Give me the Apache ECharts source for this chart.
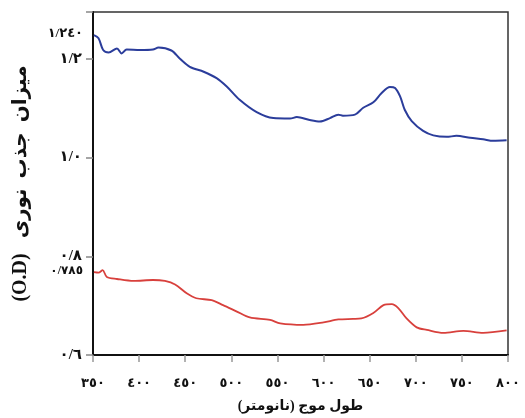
<!DOCTYPE html>
<html><head><meta charset="utf-8">
<script src="https://cdn.jsdelivr.net/npm/echarts@6/dist/echarts.min.js"></script>
<style>html,body{margin:0;padding:0;background:#fff}#c{width:525px;height:418px}</style>
</head><body><div id="c"></div>
<script>
const xTickValues = [350,400,450,500,550,600,650,700,750,800];
const xTickLabels = ['٣٥٠','٤٠٠','٤٥٠','٥٠٠','٥٥٠','٦٠٠','٦٥٠','٧٠٠','٧٥٠','٨٠٠'];
const yTickValues = [0.6,0.8,1.0,1.2];
const yTickLabels = ['٠/٦','٠/٨','١/٠','١/٢'];
const yExtraValues = [0.785,1.24];
const yExtraLabels = ['٠/٧٨٥','١/٢٤٠'];
const xTitle = 'طول موج (نانومتر)';
const yTitle = '(O.D)   میزان  جذب  نوری';

const blueX = [351,356,361,367,376,381,386.5,401,415,421,435,444,455,470,484,495,509,527.5,545.5,563.6,571,585,596,607,616,621,634,643,654,663,672,677.5,683,688,695.6,708,719,733.5,744,759,773,784,798.5];
const blueY = [1.248,1.242,1.218,1.213,1.221,1.211,1.219,1.218,1.219,1.223,1.217,1.201,1.184,1.174,1.161,1.144,1.117,1.092,1.080,1.079,1.082,1.076,1.073,1.080,1.087,1.085,1.087,1.101,1.112,1.131,1.143,1.141,1.124,1.097,1.074,1.054,1.045,1.042,1.044,1.040,1.037,1.034,1.035];
const redX = [351,356,360.5,365,376,394,415,428,439,451.6,462,478.7,491,506,520,542,553,578,600,616,632,641,654,665,674,681,690,701,712,730,751.6,773,798.5];
const redY = [0.768,0.767,0.772,0.758,0.754,0.750,0.752,0.750,0.743,0.725,0.715,0.711,0.701,0.688,0.676,0.671,0.664,0.661,0.666,0.672,0.673,0.674,0.685,0.701,0.703,0.695,0.674,0.656,0.651,0.645,0.649,0.645,0.650];

const arFont = '"Liberation Serif","DejaVu Sans",serif';
const chart = echarts.init(document.getElementById('c'));
const xLab = {}; xTickValues.forEach((v,i)=>xLab[v]=xTickLabels[i]);
const yLab = {}; yTickValues.forEach((v,i)=>yLab[v.toFixed(3)]=yTickLabels[i]);
const yExt = {}; yExtraValues.forEach((v,i)=>yExt[v.toFixed(3)]=yExtraLabels[i]);
chart.setOption({
  animation:false,
  grid:{left:93,right:17,top:12,bottom:61,show:true,borderColor:'#333',borderWidth:1.5,backgroundColor:'transparent'},
  xAxis:{type:'value',min:350,max:800,interval:50,
    axisLine:{show:true,lineStyle:{color:'#111',width:2}},
    axisTick:{show:true,length:7,lineStyle:{color:'#999',width:1.5}},
    axisLabel:{customValues:xTickValues,margin:22,fontSize:13,fontWeight:'bold',color:'#111',fontFamily:arFont,formatter:v=>xLab[v]},
    splitLine:{show:false},
    name:xTitle,nameLocation:'middle',nameGap:44,nameTextStyle:{fontSize:14,fontWeight:'bold',color:'#111',fontFamily:arFont}
  },
  yAxis:[{type:'value',min:0.6,max:1.295,interval:0.2,
    axisLine:{show:true,lineStyle:{color:'#111',width:2}},
    axisTick:{show:true,length:7,lineStyle:{color:'#888',width:1.5}},
    axisLabel:{customValues:yTickValues,margin:11,fontSize:15,fontWeight:'bold',color:'#111',fontFamily:arFont,formatter:v=>yLab[Number(v).toFixed(3)]},
    splitLine:{show:false},
    name:yTitle,nameLocation:'middle',nameGap:62,nameRotate:90,
    nameTextStyle:{fontSize:20,fontWeight:'bold',color:'#111',fontFamily:arFont}
  },{type:'value',min:0.6,max:1.295,position:'left',
    axisLine:{show:false},axisTick:{show:false},splitLine:{show:false},
    axisLabel:{customValues:yExtraValues,margin:10,color:'#111',fontFamily:arFont,
      formatter:v=>{const k=Number(v).toFixed(3);return (k==='0.785'?'{lo|':'{hi|')+yExt[k]+'}';},
      rich:{lo:{fontSize:12,fontWeight:'bold',color:'#111',fontFamily:arFont,padding:[14,0,0,0]},
            hi:{fontSize:13,fontWeight:'bold',color:'#111',fontFamily:arFont,padding:[0,0,12,0]}}}
  }],
  series:[
    {type:'line',data:blueX.map((x,i)=>[x,blueY[i]]),showSymbol:false,smooth:0.3,lineStyle:{color:'#2b3d9b',width:2},itemStyle:{color:'#2b3d9b'}},
    {type:'line',data:redX.map((x,i)=>[x,redY[i]]),showSymbol:false,smooth:0.3,lineStyle:{color:'#d8403c',width:1.8},itemStyle:{color:'#d8403c'}}
  ]
});
</script></body></html>
